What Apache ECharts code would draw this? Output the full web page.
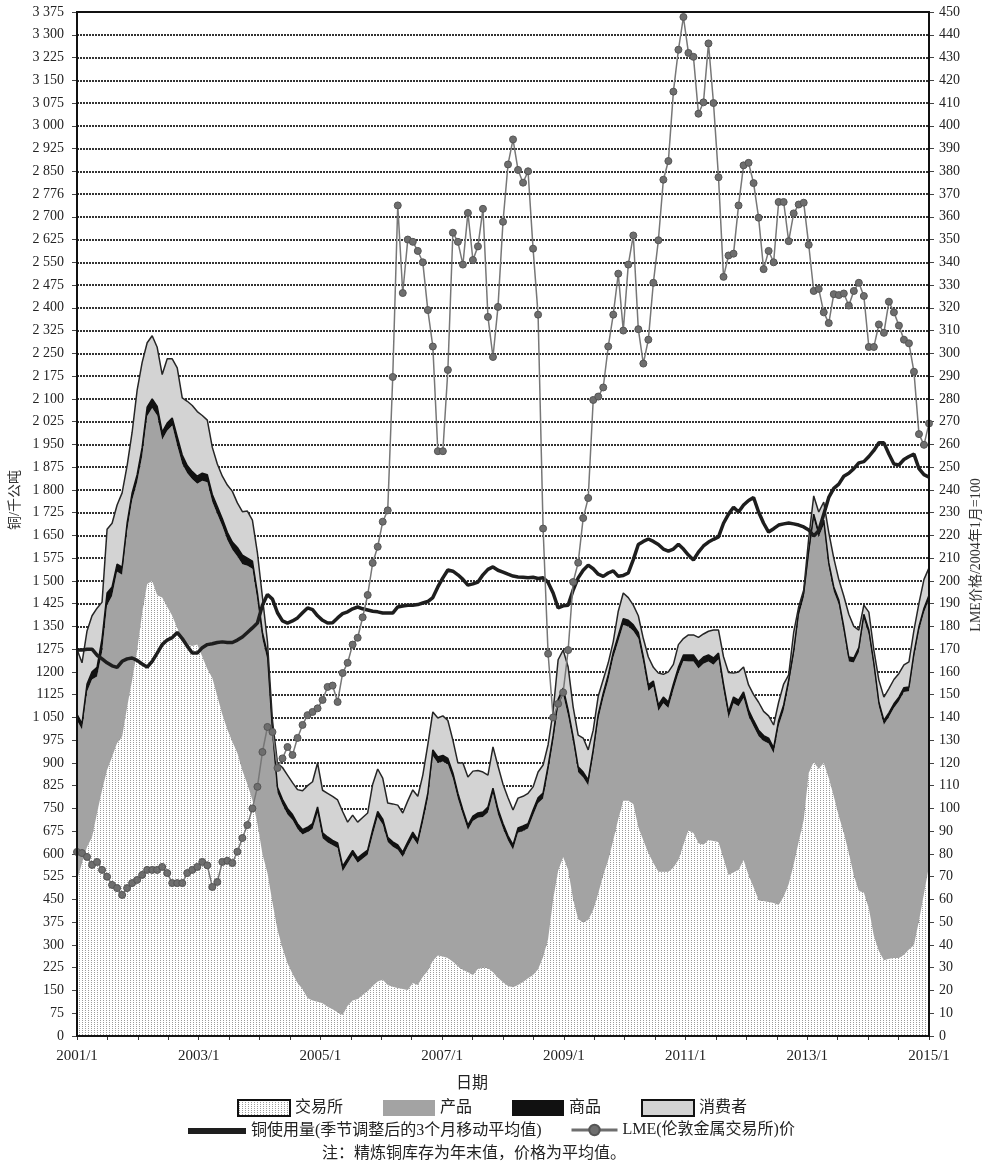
<!DOCTYPE html>
<html>
<head>
<meta charset="utf-8">
<script src="https://cdn.jsdelivr.net/npm/echarts@6/dist/echarts.min.js"></script>
<style>
  html, body { margin: 0; padding: 0; background: #fff; }
  #chart { width: 991px; height: 1170px; }
</style>
</head>
<body>
<div id="chart"></div>
<script>
// Monthly categories, 2001/1 through 2015/3
const months = [];
(function () {
  let y = 2001, m = 1;
  for (;;) {
    months.push(y + '/' + m);
    if (y === 2015 && m === 3) break;
    m += 1;
    if (m > 12) { m = 1; y += 1; }
  }
})();

// Date labels spaced evenly along the bottom axis
const dateTicks = ['2001/1', '2003/1', '2005/1', '2007/1', '2009/1', '2011/1', '2013/1', '2015/1'];

// Left axis labels, bottom to top (thousand tonnes)
const leftTicks = ['0', '75', '150', '225', '300', '375', '450', '525', '600', '675', '750', '825', '900', '975',
  '1 050', '1125', '1200', '1275', '1 350', '1 425', '1 500', '1 575', '1 650', '1 725', '1 800', '1 875',
  '1 950', '2 025', '2 100', '2 175', '2 250', '2 325', '2 400', '2 475', '2 550', '2 625', '2 700', '2 776',
  '2 850', '2 925', '3 000', '3 075', '3 150', '3 225', '3 300', '3 375'];

// Refined copper stocks by holder (thousand tonnes), stacked
const exchange = [
  514, 570, 623, 656, 735, 811, 877, 920, 966, 986, 1084, 1173,
  1270, 1394, 1490, 1500, 1453, 1445, 1415, 1385, 1345, 1310, 1290, 1285,
  1290, 1250, 1210, 1180, 1120, 1060, 1010, 970, 933, 875, 830, 778,
  700, 600, 537, 440, 350, 290, 240, 205, 175, 155, 125, 117,
  113, 108, 96, 88, 78, 69, 100, 117, 122, 135, 148, 165,
  180, 185, 168, 162, 158, 155, 152, 175, 168, 195, 215, 248,
  265, 262, 257, 245, 230, 218, 210, 200, 222, 226, 224, 210,
  192, 177, 165, 161, 168, 178, 190, 201, 220, 260, 320, 450,
  545, 590, 547, 450, 385, 375, 382, 415, 470, 530, 580, 645,
  715, 775, 775, 765, 689, 645, 603, 570, 541, 541, 541, 555,
  580, 630, 679, 669, 635, 630, 646, 643, 639, 585, 531, 540,
  547, 580, 530, 490, 448, 445, 442, 438, 432, 460, 500, 565,
  640, 712, 867, 903, 880, 900, 850, 790, 725, 670, 603, 530,
  478, 473, 420, 330, 280, 250, 255, 257, 257, 268, 285, 300,
  380, 470, 560];

const product = [
  526, 440, 512, 519, 450, 454, 543, 530, 564, 534, 581, 592,
  555, 516, 553, 570, 592, 520, 580, 627, 600, 575, 565, 550,
  530, 580, 615, 580, 600, 620, 625, 633, 647, 680, 720, 762,
  735, 708, 703, 552, 452, 472, 490, 507, 507, 509, 547, 565,
  622, 544, 542, 541, 542, 473, 469, 479, 449, 449, 449, 497,
  542, 512, 471, 462, 456, 435, 472, 479, 462, 507, 567, 675,
  635, 643, 638, 604, 552, 511, 469, 509, 497, 496, 513, 589,
  538, 507, 479, 453, 502, 498, 494, 526, 547, 523, 550, 520,
  543, 535, 507, 518, 484, 477, 444, 510, 572, 582, 592, 602,
  585, 580, 575, 570, 621, 585, 534, 582, 530, 556, 540, 585,
  615, 606, 555, 565, 576, 597, 588, 581, 603, 555, 517, 557,
  540, 534, 524, 530, 540, 527, 522, 494, 590, 613, 657, 690,
  745, 733, 718, 802, 765, 785, 695, 675, 697, 663, 631, 701,
  787, 902, 903, 885, 806, 776, 796, 824, 846, 866, 851, 948,
  956, 926, 879];

const commodity = [
  20, 20, 25, 25, 30, 45, 40, 30, 25, 25, 25, 25,
  25, 30, 30, 30, 30, 25, 25, 25, 30, 30, 25, 25,
  25, 25, 25, 25, 25, 25, 25, 25, 30, 30, 25, 25,
  25, 22, 20, 18, 18, 18, 20, 18, 18, 16, 16, 18,
  20, 18, 18, 16, 16, 18, 16, 16, 16, 16, 16, 18,
  18, 18, 16, 16, 16, 16, 16, 18, 16, 18, 18, 20,
  20, 20, 20, 18, 18, 16, 16, 16, 16, 16, 18, 18,
  18, 16, 16, 16, 16, 16, 16, 18, 18, 18, 20, 20,
  22, 22, 20, 18, 18, 18, 18, 18, 18, 18, 18, 18,
  20, 20, 20, 20, 20, 20, 20, 18, 20, 20, 20, 20,
  20, 20, 22, 22, 22, 22, 22, 22, 20, 20, 20, 20,
  20, 20, 20, 20, 20, 18, 18, 18, 18, 18, 16, 15,
  15, 15, 15, 15, 15, 15, 15, 15, 15, 15, 15, 15,
  15, 15, 15, 14, 14, 14, 14, 14, 14, 14, 14, 14,
  14, 14, 14];

const consumer = [
  215, 200, 175, 185, 195, 120, 210, 210, 195, 245, 190, 200,
  279, 280, 212, 208, 195, 190, 212, 195, 227, 188, 212, 218,
  213, 190, 180, 155, 140, 140, 156, 167, 147, 143, 155, 135,
  132, 117, 40, 30, 80, 105, 110, 105, 112, 128, 137, 138,
  145, 140, 144, 145, 142, 180, 120, 116, 118, 120, 122, 150,
  140, 135, 113, 125, 131, 129, 135, 139, 144, 140, 160, 125,
  128, 130, 125, 108, 100, 155, 159, 148, 140, 132, 105, 136,
  142, 130, 125, 115, 98, 98, 100, 76, 85, 92, 70, 80,
  130, 125, 142, 98, 105, 112, 99, 65, 60, 45, 40, 35,
  80, 85, 75, 65, 55, 60, 92, 45, 105, 75, 99, 65,
  75, 54, 66, 66, 81, 76, 78, 92, 76, 90, 130, 79,
  93, 82, 83, 85, 92, 80, 73, 75, 60, 69, 17, 60,
  15, 10, 40, 60, 67, 60, 100, 95, 68, 102, 141, 104,
  58, 30, 59, 43, 73, 77, 80, 80, 78, 75, 83, 76,
  77, 95, 90];

// Copper usage, seasonally adjusted 3-month moving average
const usage = [
  1272, 1272, 1275, 1275, 1255, 1243, 1230, 1220, 1215, 1235, 1243, 1246,
  1238, 1226, 1216, 1235, 1262, 1290, 1305, 1313, 1330, 1310, 1285, 1262,
  1262, 1280, 1290, 1293, 1297, 1299, 1297, 1297, 1305, 1315, 1330, 1345,
  1361, 1420, 1455, 1440, 1395, 1368, 1361, 1368, 1378, 1395, 1411, 1405,
  1385, 1370, 1361, 1362, 1378, 1392, 1398, 1408, 1414, 1408, 1404, 1400,
  1398, 1394, 1394, 1394, 1414, 1417, 1420, 1420, 1422, 1427, 1432, 1445,
  1480, 1510, 1536, 1532, 1520, 1505, 1486, 1490, 1496, 1520, 1538, 1546,
  1535, 1529, 1522, 1516, 1513, 1512, 1510, 1512, 1508, 1510, 1495, 1460,
  1411, 1418, 1420, 1470, 1510, 1535, 1552, 1540, 1522, 1515, 1526, 1533,
  1515, 1518, 1526, 1570, 1620, 1630, 1638, 1630, 1620, 1605, 1598, 1605,
  1621, 1605, 1585, 1569, 1595, 1615, 1628, 1637, 1645, 1690, 1720, 1743,
  1727, 1750, 1765, 1775, 1727, 1690, 1661, 1672, 1684, 1688, 1691, 1688,
  1684, 1678, 1668, 1648, 1665, 1720, 1775, 1805, 1819, 1845, 1855, 1870,
  1889, 1893, 1910, 1930, 1955, 1955, 1918, 1885, 1882, 1900, 1910, 1918,
  1870, 1850, 1842];

// LME copper price index (right axis)
const lme = [
  80.9, 80.4, 78.7, 75.2, 76.5, 73, 70, 66.4, 65, 62, 65, 67.2,
  68.6, 70.8, 73, 73, 73, 74.3, 71.6, 67.2, 67.2, 67.2, 71.6, 73,
  74.3, 76.5, 75, 65.5, 67.7, 76.5, 77, 76, 81, 87, 92.7, 100,
  109.5, 124.8, 135.8, 133.6, 117.8, 122, 127, 123.5, 131, 136.7, 141, 142.4,
  144, 147.7, 153.4, 154, 146.8, 159.5, 164, 172, 175, 184, 193.8, 207.9,
  215, 226, 231, 289.6, 365, 326.5, 350, 349, 345, 340, 319, 303,
  257, 257, 292.7, 353, 349, 339, 361.7, 341, 347, 363.5, 316, 298.4,
  320.4, 357.8, 383, 394, 380.6, 375, 380, 346, 317, 223, 168, 140,
  146, 151, 169.6, 199.5, 208, 227.6, 236.4, 279.5, 281, 285, 303, 317,
  335, 310, 339, 351.8, 310.6, 295.5, 306, 331, 349.7, 376.3, 384.5, 415,
  433.4, 447.8, 432, 430.3, 405.3, 410.3, 436.2, 410, 377.4, 333.6, 343, 343.8,
  365, 382.6, 383.7, 374.8, 359.6, 337, 345, 340, 366.5, 366.5, 349.3, 361.5,
  365.4, 366.2, 347.7, 327.4, 328.3, 318, 313.3, 326, 325.6, 326.3, 321, 327.4,
  331, 325.2, 302.8, 302.8, 312.7, 309, 322.7, 318, 312.2, 306, 304.4, 291.9,
  264.5, 259.8, 269.2];

const USAGE_NAME = '铜使用量(季节调整后的3个月移动平均值)';
const LME_NAME = 'LME(伦敦金属交易所)价';
const FONT = '"Liberation Serif", "Noto Sans CJK SC", serif';
const LEGEND_TEXT = { fontFamily: FONT, fontSize: 16, color: '#222' };

// Fine dotted fill used for exchange stocks
function makeDots() {
  const c = document.createElement('canvas');
  c.width = 3; c.height = 2;
  const g = c.getContext('2d');
  g.fillStyle = '#ffffff';
  g.fillRect(0, 0, 3, 2);
  g.fillStyle = '#9c9c9c';
  g.fillRect(1, 0, 1, 1);
  return c;
}
const dots = { image: makeDots(), repeat: 'repeat' };

const chart = echarts.init(document.getElementById('chart'), null, { renderer: 'canvas' });

function areaSeries(name, data, fill, line) {
  const solid = typeof fill === 'string' ? fill : '#e6e6e6';
  return {
    name: name,
    type: 'line',
    stack: 'stocks',
    data: data,
    symbol: 'none',
    smooth: false,
    color: solid,
    itemStyle: { color: solid },
    areaStyle: { color: fill, opacity: 1 },
    lineStyle: line,
    z: 2
  };
}

chart.setOption({
  animation: false,
  backgroundColor: '#ffffff',
  grid: { left: 77, right: 62, top: 12, bottom: 134 },
  xAxis: [
    {
      type: 'category',
      data: months,
      boundaryGap: false,
      show: false
    },
    {
      type: 'value',
      position: 'bottom',
      min: 0,
      max: 28,
      interval: 1,
      axisLine: { show: true, lineStyle: { color: '#111', width: 2 } },
      axisTick: { show: true, length: 4, lineStyle: { color: '#333', width: 1 } },
      splitLine: { show: false },
      axisLabel: {
        margin: 13,
        fontFamily: FONT,
        fontSize: 15,
        color: '#222',
        formatter: function (v) { return v % 4 === 0 ? dateTicks[v / 4] : ''; }
      }
    }
  ],
  yAxis: [
    {
      type: 'value',
      min: 0,
      max: 3375,
      interval: 75,
      axisLine: { show: true, lineStyle: { color: '#111', width: 2 } },
      axisTick: { show: true, length: 5, lineStyle: { color: '#444' } },
      axisLabel: {
        margin: 13,
        fontFamily: FONT,
        fontSize: 14,
        color: '#222',
        formatter: function (v) { return leftTicks[Math.round(v / 75)]; }
      },
      splitLine: { show: true, lineStyle: { color: '#333', width: 1.8, type: [2, 1] } }
    },
    {
      type: 'value',
      min: 0,
      max: 450,
      interval: 10,
      position: 'right',
      axisLine: { show: true, lineStyle: { color: '#111', width: 2 } },
      axisTick: { show: true, length: 5, lineStyle: { color: '#444' } },
      axisLabel: { margin: 10, fontFamily: FONT, fontSize: 14, color: '#222' },
      splitLine: { show: false }
    }
  ],
  legend: [
    {
      left: 237,
      top: 1099,
      padding: 0,
      itemWidth: 52,
      itemHeight: 16,
      itemGap: 40,
      selectedMode: false,
      textStyle: LEGEND_TEXT,
      data: [
        { name: '交易所', icon: 'rect', itemStyle: { color: dots, borderColor: '#111', borderWidth: 2 } },
        { name: '产品', icon: 'rect', itemStyle: { color: '#a3a3a3', borderWidth: 0 } },
        { name: '商品', icon: 'rect', itemStyle: { color: '#111111', borderWidth: 0 } },
        { name: '消费者', icon: 'rect', itemStyle: { color: '#d3d3d3', borderColor: '#111', borderWidth: 2 } }
      ]
    },
    {
      left: 188,
      top: 1123,
      padding: 0,
      itemWidth: 58,
      itemHeight: 6,
      itemGap: 10,
      selectedMode: false,
      textStyle: LEGEND_TEXT,
      data: [
        { name: USAGE_NAME, icon: 'rect', itemStyle: { color: '#1e1e1e', borderWidth: 0 } }
      ]
    },
    {
      left: 570,
      top: 1122,
      padding: 0,
      itemWidth: 46,
      itemHeight: 13,
      itemGap: 10,
      selectedMode: false,
      textStyle: LEGEND_TEXT,
      data: [
        { name: LME_NAME, lineStyle: { width: 3, color: '#6e6e6e' } }
      ]
    }
  ],
  graphic: [
    {
      type: 'rect',
      z: 100,
      silent: true,
      shape: { x: 77, y: 12, width: 852, height: 1024 },
      style: { fill: null, stroke: '#111', lineWidth: 2 }
    },
    {
      type: 'text', x: 15, y: 500, rotation: Math.PI / 2, silent: true,
      style: { text: '铜/千公吨', font: '14px ' + FONT, fill: '#333',
        textAlign: 'center', textVerticalAlign: 'middle', align: 'center', verticalAlign: 'middle' }
    },
    {
      type: 'text', x: 976, y: 555, rotation: Math.PI / 2, silent: true,
      style: { text: 'LME价格/2004年1月=100', font: '14px ' + FONT, fill: '#333',
        textAlign: 'center', textVerticalAlign: 'middle', align: 'center', verticalAlign: 'middle' }
    },
    {
      type: 'text', x: 472, y: 1084, silent: true,
      style: { text: '日期', font: '16px ' + FONT, fill: '#222',
        textAlign: 'center', textVerticalAlign: 'middle', align: 'center', verticalAlign: 'middle' }
    },
    {
      type: 'text', x: 474, y: 1154, silent: true,
      style: { text: '注：精炼铜库存为年末值，价格为平均值。', font: '16px ' + FONT, fill: '#222',
        textAlign: 'center', textVerticalAlign: 'middle', align: 'center', verticalAlign: 'middle' }
    }
  ],
  series: [
    areaSeries('交易所', exchange, dots, { width: 0, opacity: 0 }),
    areaSeries('产品', product, '#a3a3a3', { width: 0, opacity: 0 }),
    areaSeries('商品', commodity, '#111111', { width: 1.5, color: '#111' }),
    areaSeries('消费者', consumer, '#d3d3d3', { width: 1.5, color: '#262626' }),
    {
      name: USAGE_NAME,
      type: 'line',
      data: usage,
      yAxisIndex: 0,
      symbol: 'none',
      color: '#1e1e1e',
      lineStyle: { color: '#1e1e1e', width: 3.5 },
      z: 4
    },
    {
      name: LME_NAME,
      type: 'line',
      data: lme,
      yAxisIndex: 1,
      symbol: 'circle',
      symbolSize: 7,
      showSymbol: true,
      showAllSymbol: true,
      color: '#6e6e6e',
      itemStyle: { color: '#6e6e6e', borderColor: '#555', borderWidth: 1 },
      lineStyle: { color: '#777', width: 1.5 },
      z: 5
    }
  ]
});
</script>
</body>
</html>
